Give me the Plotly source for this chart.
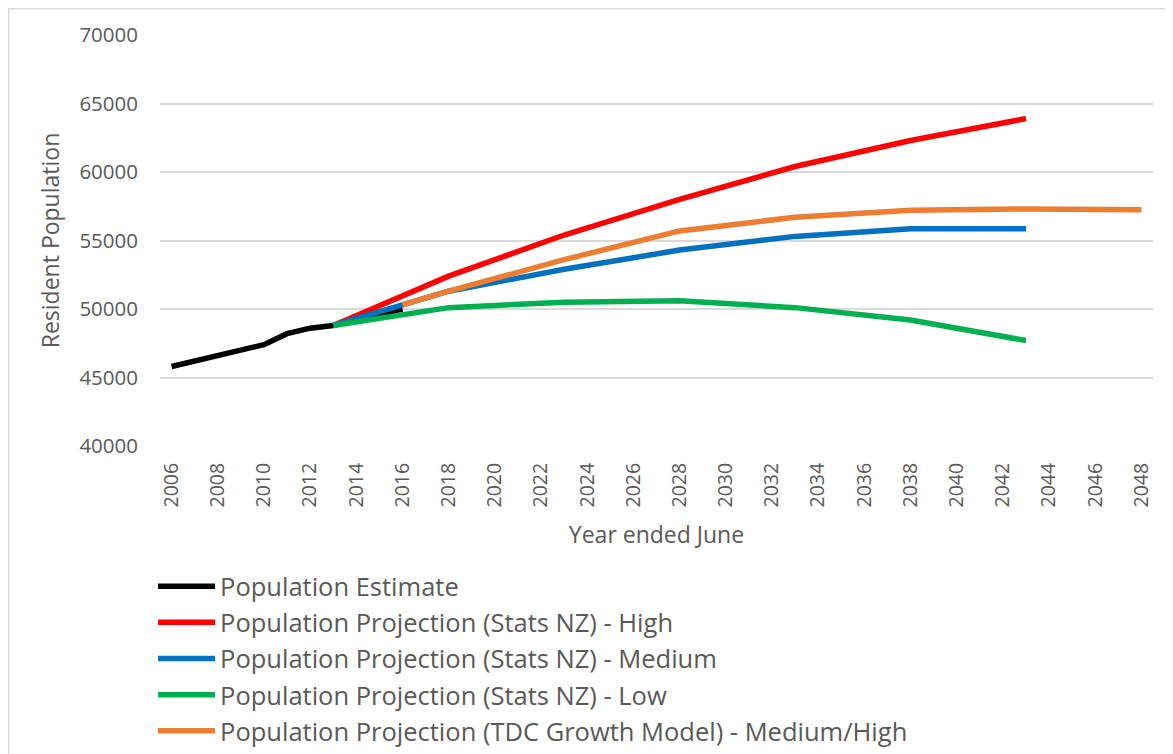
import plotly.graph_objects as go

est_years = [2006, 2007, 2008, 2009, 2010, 2011, 2012, 2013, 2014, 2015, 2016]
est_vals = [45800, 46200, 46500, 46900, 47400, 48200, 48600, 48800, 49200, 49600, 50000]

proj_years = [2013, 2018, 2023, 2028, 2033, 2038, 2043]
high_vals = [48800, 52400, 55400, 58000, 60400, 62300, 63900]
med_vals = [48800, 51300, 52900, 54300, 55300, 55850, 55850]
low_vals = [48800, 50100, 50500, 50600, 50100, 49200, 47700]

tdc_years = [2016, 2018, 2023, 2028, 2033, 2038, 2043, 2048]
tdc_vals = [50300, 51300, 53600, 55700, 56700, 57200, 57300, 57250]

tick_years = list(range(2006, 2049, 2))

series = [
    ("Population Estimate", est_years, est_vals, "#000000"),
    ("Population Projection (Stats NZ) - High", proj_years, high_vals, "#FF0000"),
    ("Population Projection (Stats NZ) - Medium", proj_years, med_vals, "#0070C0"),
    ("Population Projection (Stats NZ) - Low", proj_years, low_vals, "#00B050"),
    ("Population Projection (TDC Growth Model) - Medium/High", tdc_years, tdc_vals, "#ED7D31"),
]

fig = go.Figure()
order = [0, 1, 2, 4, 3]
for i in order:
    name, xs, ys, col = series[i]
    fig.add_trace(go.Scatter(x=xs, y=ys, mode="lines", name=name,
                             line=dict(color=col, width=5.5), legendrank=i + 1))

font_family = "Open Sans, Liberation Sans, sans-serif"
grey = "#595959"

# page body has an 8px offset, so margins are shifted accordingly
ML, MT = 152, 27
PW, PH = 993, 411

fig.update_layout(
    width=1173, height=754,
    margin=dict(l=ML, r=1173 - ML - PW, t=MT, b=754 - MT - PH, autoexpand=False),
    paper_bgcolor="white", plot_bgcolor="white",
    font=dict(family=font_family, color=grey),
    showlegend=True,
    legend=dict(x=-0.007, y=-0.285, xanchor="left", yanchor="top",
                font=dict(size=25.5, color=grey), tracegroupgap=0,
                itemwidth=57, bgcolor="rgba(0,0,0,0)"),
    xaxis=dict(range=[2005.5, 2048.5], tickmode="array", tickvals=tick_years,
               ticktext=[str(t) for t in tick_years], tickangle=-90,
               showgrid=False, zeroline=False, showline=False, ticks="",
               ticklabelstandoff=12,
               tickfont=dict(size=19.5, color=grey),
               title=dict(text="Year ended June", font=dict(size=23, color=grey), standoff=20)),
    yaxis=dict(range=[40000, 70000], dtick=5000, tickformat="d",
               showgrid=True, gridcolor="#D9D9D9", gridwidth=1.5, zeroline=False,
               showline=False, ticks="", ticklen=0, ticklabelstandoff=21,
               tickfont=dict(size=20.5, color=grey),
               title=dict(text="Resident Population", font=dict(size=23, color=grey), standoff=13)),
    shapes=[dict(type="rect", xref="paper", yref="paper",
                 x0=(0.75 - ML) / PW, x1=(1200 - ML) / PW,
                 y0=-(800 - MT - PH) / PH, y1=1 + (MT - 0.75) / PH,
                 line=dict(color="#D9D9D9", width=1.5), fillcolor="rgba(0,0,0,0)", layer="below")],
)

fig.write_html("out.html")
